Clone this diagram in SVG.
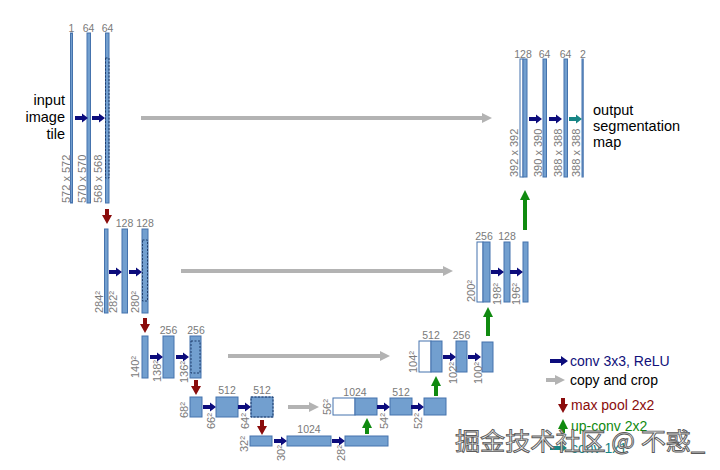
<svg xmlns="http://www.w3.org/2000/svg" xmlns:xlink="http://www.w3.org/1999/xlink" width="720" height="470" viewBox="0 0 720 470">
<style>
.b{fill:#729fcf;stroke:#4573ad;stroke-width:1}
.w{fill:#ffffff;stroke:#4573ad;stroke-width:1}
.d{fill:none;stroke:#1f3d6b;stroke-width:1;stroke-dasharray:2 1.5}
.n{font-family:"Liberation Sans",Arial,sans-serif;font-size:10.5px;fill:#7a7a7a;text-anchor:middle}
.s{font-family:"Liberation Sans",Arial,sans-serif;font-size:11px;fill:#7a7a7a;text-anchor:start}
.t{font-family:"Liberation Sans",Arial,sans-serif;font-size:14.5px;fill:#000}
.lg{font-family:"Liberation Sans",Arial,sans-serif;font-size:14px}
.conv{fill:#0c0c7c}
.c11{fill:#178585}
.pool{fill:#8a0c0c}
.copy{stroke:#b3b3b3;stroke-width:4;fill:none}
.up{stroke:#108a10;stroke-width:4;fill:none}
.wm{font-family:"Noto Sans CJK SC","Noto Sans",sans-serif;font-size:24px;fill:#f2f2f2;stroke:#5a5a5a;stroke-width:0.9}
</style>
<defs>
<path id="ac" d="M0,-2 H7 V-4.5 L13,0 L7,4.5 V2 H0 Z"/>
<path id="ad" d="M-2,0 H2 V6 H5 L0,15 L-5,6 H-2 Z"/>
<marker id="mg" viewBox="0 0 10 10" refX="2" refY="5" markerWidth="10" markerHeight="10" markerUnits="userSpaceOnUse" orient="auto"><path d="M0,0 L10,5 L0,10 Z" fill="#b3b3b3"/></marker>
<marker id="mu" viewBox="0 0 10 10" refX="2" refY="5" markerWidth="10" markerHeight="10" markerUnits="userSpaceOnUse" orient="auto"><path d="M0,0 L10,5 L0,10 Z" fill="#108a10"/></marker>
</defs>
<rect width="720" height="470" fill="#ffffff"/>

<g id="input-label">
<text class="t" x="65" y="105" text-anchor="end">input</text>
<text class="t" x="65" y="122" text-anchor="end">image</text>
<text class="t" x="65" y="139" text-anchor="end">tile</text>
</g>
<g id="output-label">
<text class="t" x="593" y="115">output</text>
<text class="t" x="593" y="131">segmentation</text>
<text class="t" x="593" y="147">map</text>
</g>

<!-- level 1 down -->
<g id="n1a"><rect class="b" x="70.5" y="33" width="2" height="170"/><text class="n" x="71.5" y="32">1</text><text class="s" transform="translate(70,203) rotate(-90)">572 x 572</text></g>
<g id="n1b"><rect class="b" x="87" y="33" width="3.5" height="170"/><text class="n" x="88.5" y="32">64</text><text class="s" transform="translate(86,203) rotate(-90)">570 x 570</text></g>
<g id="n1c"><rect class="b" x="105.5" y="33" width="3.5" height="170"/><rect class="d" x="105.5" y="58" width="3.5" height="120"/><text class="n" x="107.5" y="32">64</text><text class="s" transform="translate(102,203) rotate(-90)">568 x 568</text></g>

<!-- level 2 down -->
<g id="n2a"><rect class="b" x="104.5" y="229" width="3.5" height="84"/><text class="s" transform="translate(103,313) rotate(-90)">284²</text></g>
<g id="n2b"><rect class="b" x="122" y="229" width="5.5" height="84"/><text class="n" x="124.5" y="227">128</text><text class="s" transform="translate(117,313) rotate(-90)">282²</text></g>
<g id="n2c"><rect class="b" x="142" y="229" width="6" height="84"/><rect class="d" x="142.5" y="240" width="5" height="61"/><text class="n" x="145" y="227">128</text><text class="s" transform="translate(139,313) rotate(-90)">280²</text></g>

<!-- level 3 down -->
<g id="n3a"><rect class="b" x="142" y="336" width="6" height="42"/><text class="s" transform="translate(139,378) rotate(-90)">140²</text></g>
<g id="n3b"><rect class="b" x="163" y="336" width="11" height="42"/><text class="n" x="168.5" y="334">256</text><text class="s" transform="translate(161,382) rotate(-90)">138²</text></g>
<g id="n3c"><rect class="b" x="190" y="336" width="11" height="42"/><rect class="d" x="191" y="341" width="9" height="32"/><text class="n" x="196" y="334">256</text><text class="s" transform="translate(188,383) rotate(-90)">136²</text></g>

<!-- level 4 down -->
<g id="n4a"><rect class="b" x="190" y="397" width="12" height="20"/><text class="s" transform="translate(188,418) rotate(-90)">68²</text></g>
<g id="n4b"><rect class="b" x="216" y="397" width="22" height="20"/><text class="n" x="227" y="394">512</text><text class="s" transform="translate(215,429) rotate(-90)">66²</text></g>
<g id="n4c"><rect class="b" x="251" y="397" width="22" height="20"/><rect class="d" x="251" y="397" width="22" height="20"/><text class="n" x="262" y="394">512</text><text class="s" transform="translate(249,429) rotate(-90)">64²</text></g>

<!-- level 5 bottom -->
<g id="n5a"><rect class="b" x="250" y="436" width="22" height="10"/><text class="s" transform="translate(248,452) rotate(-90)">32²</text></g>
<g id="n5b"><rect class="b" x="287" y="436" width="44" height="10"/><text class="n" x="309" y="433">1024</text><text class="s" transform="translate(285,461) rotate(-90)">30²</text></g>
<g id="n5c"><rect class="b" x="345" y="436" width="43" height="10"/><text class="s" transform="translate(345,461) rotate(-90)">28²</text></g>

<!-- level 4 up -->
<g id="u4a"><rect class="w" x="333" y="398" width="22" height="17"/><rect class="b" x="355" y="398" width="22" height="17"/><text class="n" x="355" y="396">1024</text><text class="s" transform="translate(331,415) rotate(-90)">56²</text></g>
<g id="u4b"><rect class="b" x="390" y="398" width="22" height="17"/><text class="n" x="401" y="396">512</text><text class="s" transform="translate(388,429) rotate(-90)">54²</text></g>
<g id="u4c"><rect class="b" x="424" y="398" width="22" height="17"/><text class="s" transform="translate(422,429) rotate(-90)">52²</text></g>

<!-- level 3 up -->
<g id="u3a"><rect class="w" x="419" y="341" width="12" height="31"/><rect class="b" x="431" y="341" width="11" height="31"/><text class="n" x="431" y="339">512</text><text class="s" transform="translate(417,373) rotate(-90)">104²</text></g>
<g id="u3b"><rect class="b" x="456" y="341" width="11" height="31"/><text class="n" x="461.5" y="339">256</text><text class="s" transform="translate(457,384) rotate(-90)">102²</text></g>
<g id="u3c"><rect class="b" x="482" y="342" width="11" height="30"/><text class="s" transform="translate(482,384) rotate(-90)">100²</text></g>

<!-- level 2 up -->
<g id="u2a"><rect class="w" x="477" y="242" width="6" height="60"/><rect class="b" x="483" y="242" width="7" height="60"/><text class="n" x="484" y="240">256</text><text class="s" transform="translate(475,302) rotate(-90)">200²</text></g>
<g id="u2b"><rect class="b" x="504" y="242" width="6" height="60"/><text class="n" x="507" y="240">128</text><text class="s" transform="translate(501,305) rotate(-90)">198²</text></g>
<g id="u2c"><rect class="b" x="523" y="242" width="5" height="60"/><text class="s" transform="translate(520,305) rotate(-90)">196²</text></g>

<!-- level 1 up -->
<g id="u1a"><rect class="w" x="520" y="59" width="3" height="118"/><rect class="b" x="523" y="59" width="4" height="118"/><text class="n" x="523" y="58">128</text><text class="s" transform="translate(518,177) rotate(-90)">392 x 392</text></g>
<g id="u1b"><rect class="b" x="543" y="59" width="3.5" height="118"/><text class="n" x="544.5" y="58">64</text><text class="s" transform="translate(542,177) rotate(-90)">390 x 390</text></g>
<g id="u1c"><rect class="b" x="564" y="59" width="3.5" height="118"/><text class="n" x="565.5" y="58">64</text><text class="s" transform="translate(562,177) rotate(-90)">388 x 388</text></g>
<g id="u1d"><rect class="b" x="582" y="59" width="1.2" height="118"/><text class="n" x="583" y="58">2</text><text class="s" transform="translate(580,177) rotate(-90)">388 x 388</text></g>

<g id="connectors">
<!-- conv 3x3 -->
<use href="#ac" class="conv" x="75" y="118"/><use href="#ac" class="conv" x="92" y="118"/>
<use href="#ac" class="conv" x="109" y="272"/><use href="#ac" class="conv" x="129" y="272"/>
<use href="#ac" class="conv" x="150" y="357"/><use href="#ac" class="conv" x="176" y="357"/>
<use href="#ac" class="conv" x="203" y="407"/><use href="#ac" class="conv" x="238" y="407"/>
<use href="#ac" class="conv" x="274" y="441"/><use href="#ac" class="conv" x="332" y="441"/>
<use href="#ac" class="conv" x="377" y="407"/><use href="#ac" class="conv" x="411" y="407"/>
<use href="#ac" class="conv" x="443" y="357"/><use href="#ac" class="conv" x="468" y="357"/>
<use href="#ac" class="conv" x="491" y="272"/><use href="#ac" class="conv" x="510" y="272"/>
<use href="#ac" class="conv" x="529" y="119"/><use href="#ac" class="conv" x="549" y="119"/>
<use href="#ac" class="c11" x="569" y="119"/>
<!-- copy and crop -->
<line class="copy" x1="141" y1="118" x2="484" y2="118" marker-end="url(#mg)"/>
<line class="copy" x1="181" y1="271" x2="445" y2="271" marker-end="url(#mg)"/>
<line class="copy" x1="228" y1="356" x2="382" y2="356" marker-end="url(#mg)"/>
<line class="copy" x1="288" y1="407" x2="311" y2="407" marker-end="url(#mg)"/>
<!-- max pool -->
<use href="#ad" class="pool" x="107" y="209"/>
<use href="#ad" class="pool" x="145" y="318"/>
<use href="#ad" class="pool" x="196" y="380"/>
<use href="#ad" class="pool" x="262" y="420"/>
<!-- up-conv -->
<line class="up" x1="367" y1="434" x2="367" y2="426" marker-end="url(#mu)"/>
<line class="up" x1="436" y1="396" x2="436" y2="384" marker-end="url(#mu)"/>
<line class="up" x1="488" y1="336" x2="488" y2="315" marker-end="url(#mu)"/>
<line class="up" x1="525" y1="230" x2="525" y2="198" marker-end="url(#mu)"/>
</g>

<g id="legend">
<path class="conv" d="M550,359 H561 V356 L568,361 L561,366 V363 H550 Z"/>
<text class="lg" x="570" y="366" fill="#10107a">conv 3x3, ReLU</text>
<line class="copy" x1="546" y1="380" x2="557" y2="380" marker-end="url(#mg)"/>
<text class="lg" x="570" y="385" fill="#000">copy and crop</text>
<use href="#ad" class="pool" x="563" y="398"/>
<text class="lg" x="571" y="410" fill="#8a0c0c">max pool 2x2</text>
<line class="up" x1="563" y1="433" x2="563" y2="427" marker-end="url(#mu)"/>
<text class="lg" x="571" y="431" fill="#108a10">up-conv 2x2</text>
<path class="c11" d="M550,446 H561 V443.5 L567,448 L561,452.5 V450 H550 Z"/>
<text class="lg" x="571" y="453" fill="#178585">conv 1x1</text>
</g>

<text class="wm" x="455" y="450" textLength="250" lengthAdjust="spacingAndGlyphs">掘金技术社区 @ 不惑_</text>
</svg>
